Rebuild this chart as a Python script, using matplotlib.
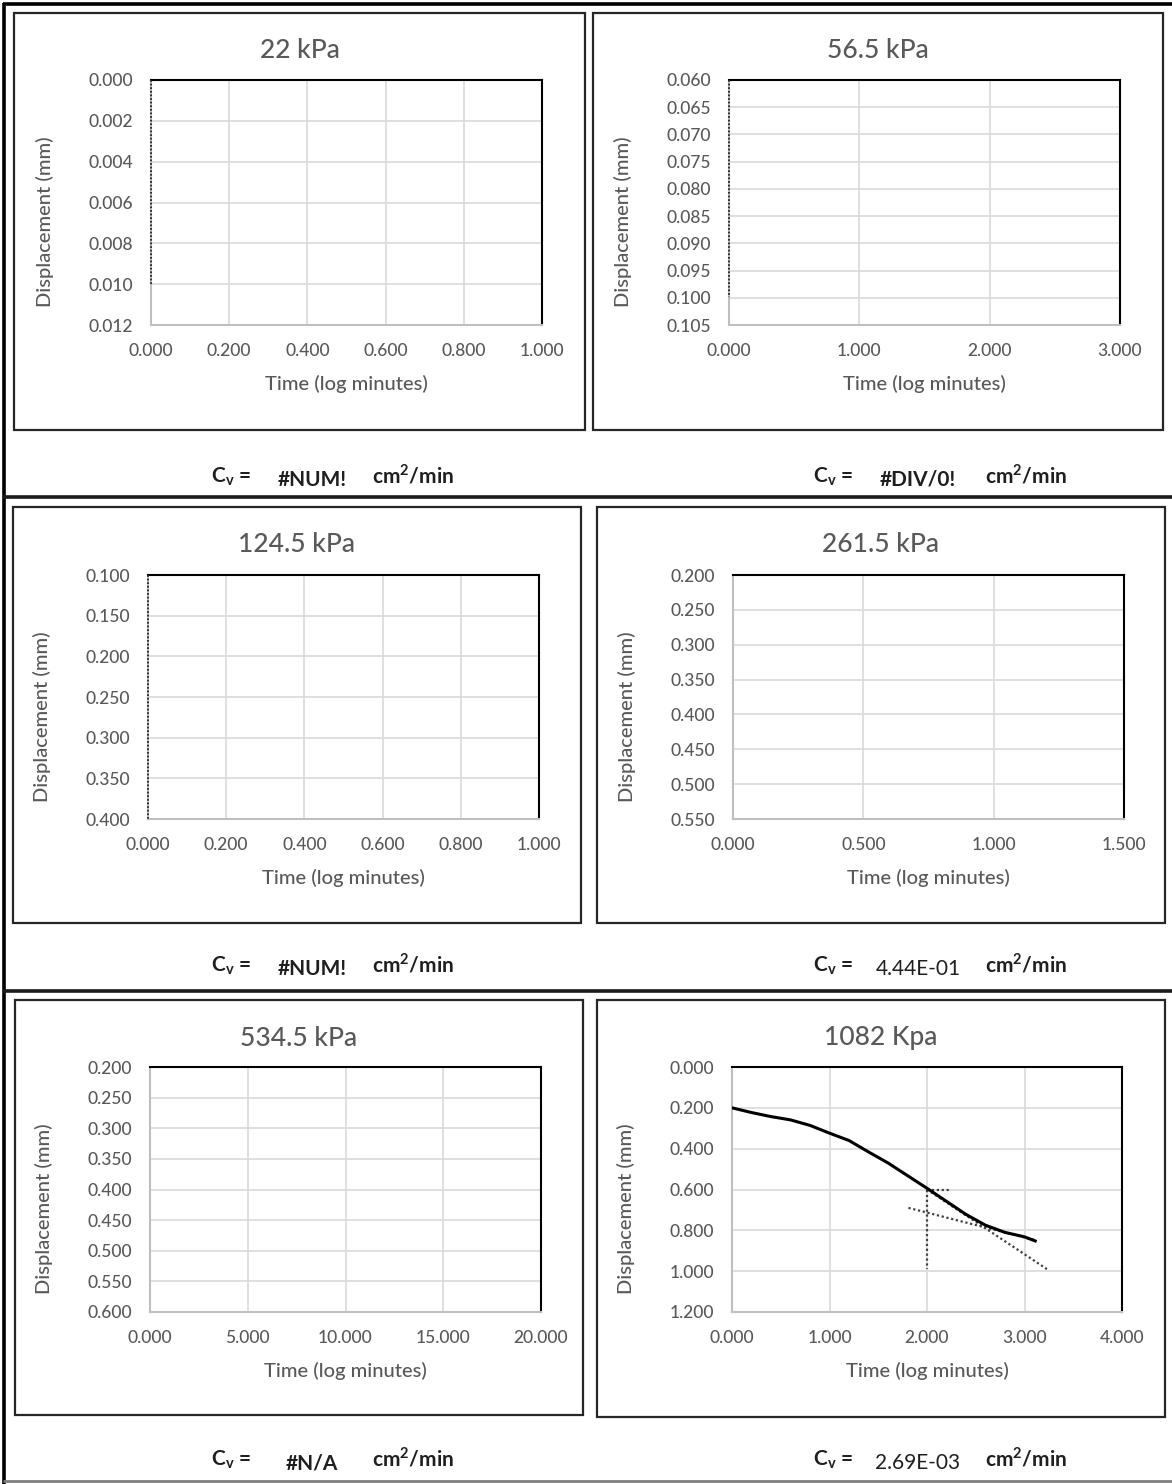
import matplotlib
matplotlib.use("Agg")
import matplotlib.pyplot as plt
import numpy as np
from matplotlib.lines import Line2D
from matplotlib.patches import Rectangle

plt.rcParams['font.family'] = ['Lato', 'DejaVu Sans']

W, H = 1172, 1484

# ---- chart data -------------------------------------------------------
titles = ["22 kPa", "56.5 kPa", "124.5 kPa", "261.5 kPa", "534.5 kPa", "1082 Kpa"]
x_ticks = [
    [0.0, 0.2, 0.4, 0.6, 0.8, 1.0],
    [0.0, 1.0, 2.0, 3.0],
    [0.0, 0.2, 0.4, 0.6, 0.8, 1.0],
    [0.0, 0.5, 1.0, 1.5],
    [0.0, 5.0, 10.0, 15.0, 20.0],
    [0.0, 1.0, 2.0, 3.0, 4.0],
]
y_ticks = [
    [0.000, 0.002, 0.004, 0.006, 0.008, 0.010, 0.012],
    [0.060, 0.065, 0.070, 0.075, 0.080, 0.085, 0.090, 0.095, 0.100, 0.105],
    [0.10, 0.15, 0.20, 0.25, 0.30, 0.35, 0.40],
    [0.20, 0.25, 0.30, 0.35, 0.40, 0.45, 0.50, 0.55],
    [0.20, 0.25, 0.30, 0.35, 0.40, 0.45, 0.50, 0.55, 0.60],
    [0.0, 0.2, 0.4, 0.6, 0.8, 1.0, 1.2],
]
cv_values = ["#NUM!", "#DIV/0!", "#NUM!", "4.44E-01", "#N/A", "2.69E-03"]

# vertical marker series at log t = 0 in the empty charts (y from, y to)
zero_marker = [(0.000, 0.010), (0.060, 0.0999), (0.100, 0.400), None, None, None]

# 1082 kPa consolidation curve
log_t = [0.0, 0.2, 0.4, 0.6, 0.8, 1.0, 1.2, 1.4, 1.6, 1.8, 2.0, 2.2, 2.4, 2.6, 2.8, 3.0, 3.11]
disp = [0.200, 0.223, 0.243, 0.259, 0.286, 0.324, 0.360, 0.416, 0.470, 0.532, 0.594,
        0.658, 0.722, 0.775, 0.810, 0.832, 0.852]

# Casagrande construction lines
t50_x = [2.0, 2.0]
t50_y = [0.600, 0.990]
d50_x = [2.0, 2.24]
d50_y = [0.600, 0.600]
sec_x = [1.81, 3.10]
sec_y = [0.690, 0.847]
prim_x = [2.0, 3.23]
prim_y = [0.600, 0.990]

# ---- layout (pixels) --------------------------------------------------
boxes = [
    (14, 13, 585, 430), (593, 13, 1163, 430),
    (13, 507, 581, 923), (597, 507, 1165, 923),
    (15, 1000, 583, 1415), (597, 1000, 1165, 1417),
]
plots = [
    (151, 80, 542, 325), (729, 80, 1120, 325),
    (148, 575, 539, 819), (733, 575, 1124, 819),
    (150, 1067, 541, 1312), (732, 1067, 1122, 1312),
]
cv_rows = [477, 477, 966, 966, 1460, 1460]
cv_cols = [(231, 312, 413), (833, 918, 1026),
           (231, 312, 413), (833, 918, 1026),
           (231, 312, 413), (833, 918, 1026)]

fig = plt.figure(figsize=(W / 100, H / 100), dpi=100)


def fx(x):
    return x / W


def fy(y):
    return 1 - y / H


def hline(y, x0, x1, color, lw):
    fig.add_artist(Line2D([fx(x0), fx(x1)], [fy(y), fy(y)], color=color, lw=lw,
                          transform=fig.transFigure, solid_capstyle='butt'))


def vline(x, y0, y1, color, lw):
    fig.add_artist(Line2D([fx(x), fx(x)], [fy(y0), fy(y1)], color=color, lw=lw,
                          transform=fig.transFigure, solid_capstyle='butt'))


# page frame and row separators
vline(4, 3, H, "black", 2.6)
hline(4, 3, W, "black", 2.6)
hline(497, 3, W, "#1a1a1a", 2.6)
hline(991, 3, W, "#1a1a1a", 2.6)
hline(1481, 3, W, "#7f7f7f", 2.0)

tick_color = "#595959"
text_color = "#1f1f1f"

for i in range(6):
    bx0, by0, bx1, by1 = boxes[i]
    fig.add_artist(Rectangle((fx(bx0), fy(by1)), fx(bx1) - fx(bx0), fy(by0) - fy(by1),
                             fill=False, edgecolor="#262626", lw=1.6,
                             transform=fig.transFigure))

    px0, py0, px1, py1 = plots[i]
    ax = fig.add_axes([fx(px0), fy(py1), fx(px1) - fx(px0), fy(py0) - fy(py1)])
    xt, yt = x_ticks[i], y_ticks[i]
    ax.set_xlim(xt[0], xt[-1])
    ax.set_ylim(yt[-1], yt[0])
    ax.set_xticks(xt)
    ax.set_yticks(yt)
    ax.set_xticklabels([f"{v:.3f}" for v in xt], fontweight="medium")
    ax.set_yticklabels([f"{v:.3f}" for v in yt], fontweight="medium")
    ax.tick_params(length=0, labelsize=12.5, colors=tick_color)
    ax.tick_params(axis='y', pad=13)
    ax.tick_params(axis='x', pad=13)
    ax.grid(True, color="#d9d9d9", lw=1.2)
    ax.set_axisbelow(True)
    for s in ("top", "right"):
        ax.spines[s].set_color("black")
        ax.spines[s].set_linewidth(1.5)
    for s in ("left", "bottom"):
        ax.spines[s].set_color("#bfbfbf")
        ax.spines[s].set_linewidth(1.5)

    ax.set_xlabel("Time (log minutes)", fontsize=14.5, color=tick_color, va="center",
                  fontweight="medium")
    ax.set_ylabel("Displacement (mm)", fontsize=14.5, color=tick_color, va="center",
                  fontweight="medium")
    ax.xaxis.set_label_coords(0.5, -0.24)
    ax.yaxis.set_label_coords(-0.271, 0.42)

    if zero_marker[i] is not None:
        y0, y1 = zero_marker[i]
        ax.plot([0, 0], [y0, y1], color="#262626", lw=1.3, ls=(0, (1, 1)),
                clip_on=False, zorder=5)

    if i == 5:
        ax.plot(t50_x, t50_y, color="#404040", lw=1.6, ls=(0, (1, 1.2)), zorder=4)
        ax.plot(d50_x, d50_y, color="#404040", lw=1.6, ls=(0, (1, 1.2)), zorder=4)
        ax.plot(sec_x, sec_y, color="#404040", lw=1.6, ls=(0, (1, 1.2)), zorder=4)
        ax.plot(prim_x, prim_y, color="#404040", lw=1.6, ls=(0, (1, 1.2)), zorder=4)
        ax.plot(log_t, disp, color="black", lw=2.2, zorder=5)

    # chart title
    cx = (bx0 + bx1) / 2
    fig.text(fx(cx), fy(by0 + 38), titles[i], ha="center", va="center",
             fontsize=19, color=tick_color, fontweight="medium")

    # coefficient of consolidation line
    c1, c2, c3 = cv_cols[i]
    yy = fy(cv_rows[i])
    fig.text(fx(c1), yy, r"C$_\mathregular{v}$ =", ha="center", va="center",
             fontsize=15, fontweight="bold", color=text_color)
    is_err = cv_values[i].startswith("#")
    fig.text(fx(c2), fy(cv_rows[i] + 3), cv_values[i], ha="center", va="center",
             fontsize=15, fontweight="bold" if is_err else "normal", color=text_color)
    fig.text(fx(c3), fy(cv_rows[i] - 2), r"cm$^\mathregular{2}$/min", ha="center",
             va="center", fontsize=15, fontweight="bold", color=text_color)

fig.savefig("out.png", dpi=100)
